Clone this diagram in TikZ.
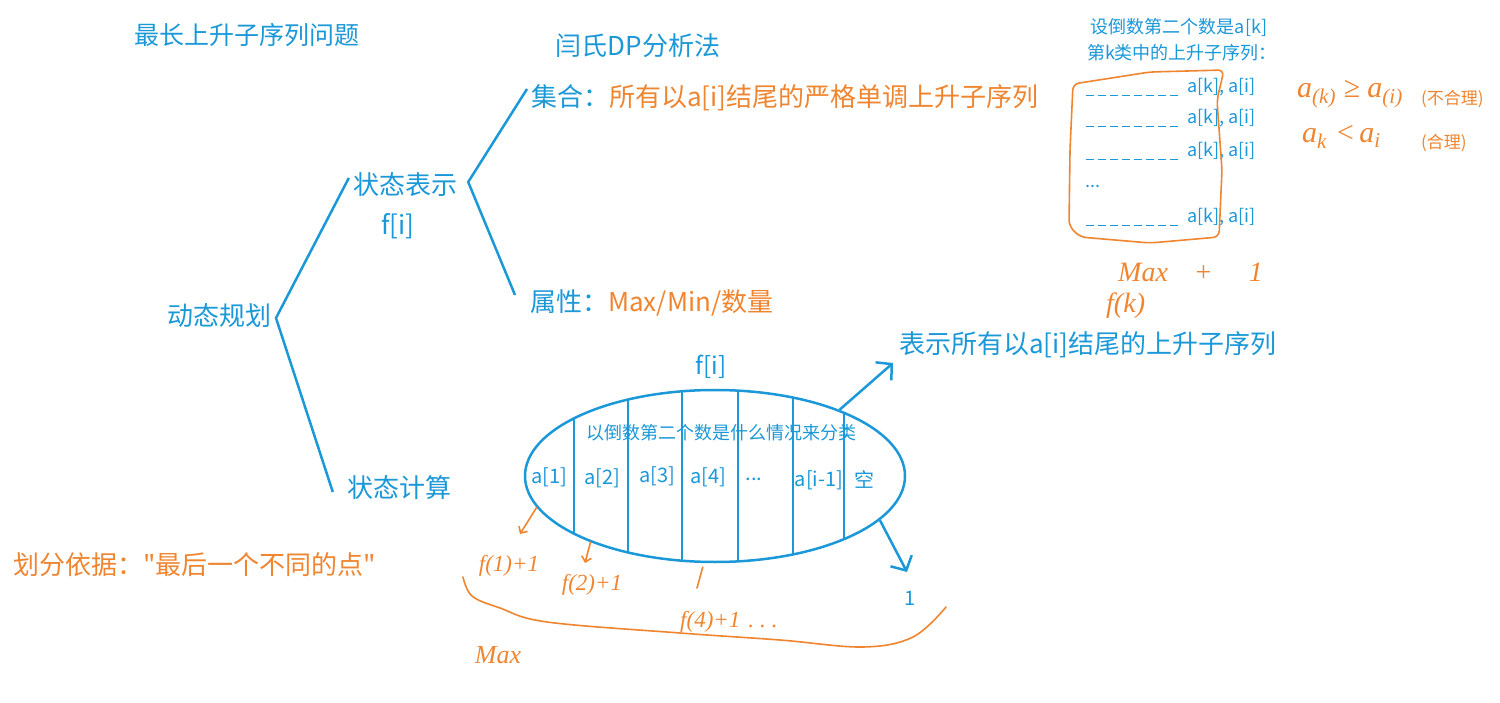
\documentclass[tikz,border=0pt]{standalone}
\usepackage{fontspec}
\setmainfont{Noto Sans CJK SC}[Ligatures=TeXOff]
\newfontfamily\handfont{Liberation Serif}
\usetikzlibrary{shapes.geometric,arrows.meta}
\definecolor{lan}{RGB}{27,152,216}
\definecolor{cheng}{RGB}{240,133,48}

\begin{document}
\begin{tikzpicture}[x=1pt,y=-1pt,
    txt/.style={inner sep=0pt,text=lan,font=\fontsize{26}{30}\selectfont},
    small/.style={inner sep=0pt,text=lan,font=\fontsize{18}{22}\selectfont},
    cell/.style={inner sep=0pt,text=lan,font=\fontsize{20}{24}\selectfont},
    note/.style={inner sep=0pt,text=cheng,font=\fontsize{17}{20}\selectfont},
    hand/.style={inner sep=0pt,text=cheng,font=\handfont\itshape\fontsize{23}{26}\selectfont},
    branch/.style={lan,line width=2.5pt},
    arr/.style={lan,line width=2.5pt,-{Straight Barb[length=11pt,width=24pt]}},
    stroke/.style={cheng,line width=1.6pt,line cap=round,line join=round},
    dashrow/.style={lan,line width=1pt,dash pattern=on 8pt off 4pt}]

  \path[use as bounding box,fill=white] (0,0) rectangle (1500,703);

  % ---- titoli --------------------------------------------------------------
  \node[txt,font=\fontsize{25}{30}\selectfont] (title) at (247,35) {最长上升子序列问题};
  \node[txt] (method) at (638,46) {闫氏DP分析法};

  % ---- albero --------------------------------------------------------------
  \node[txt] (dp)   at (219,316) {动态规划};
  \node[txt] (repr) at (405,185) {状态表示};
  \node[txt] (fi)   at (398,226) {f[i]};
  \node[txt] (calc) at (399,488) {状态计算};
  \node[txt,anchor=west] (set)  at (531,98)
    {集合：\textcolor{cheng}{所有以a[i]结尾的严格单调上升子序列}};
  \node[txt,anchor=west] (prop) at (530,303)
    {属性：\textcolor{cheng}{Max/Min/数量}};
  \node[txt,anchor=west,text=cheng] (basis) at (13,565)
    {划分依据："最后一个不同的点"};

  \coordinate (v1) at (276,318);
  \coordinate (v2) at ([shift={(11,-3)}]repr.east);
  \draw[branch] ([shift={(-4,-7)}]repr.west) -- (v1) -- ([shift={(-14,4)}]calc.west);
  \draw[branch] ([shift={(-4,-9)}]set.west) -- (v2) -- ([shift={(-15,-8)}]prop.west);

  % ---- insieme f[i] --------------------------------------------------------
  \node[ellipse,draw=lan,line width=2.5pt,inner sep=0pt,
        minimum width=380pt,minimum height=172pt] (part) at (715,476) {};
  \begin{scope}
    \clip (715,476) ellipse [x radius=190pt,y radius=86pt];
    \foreach \x in {574,628,682,738,793,844}
      \draw[branch] (\x,380) -- (\x,572);
  \end{scope}

  \node[txt,font=\fontsize{24}{28}\selectfont] (ftop) at (711,367) {f[i]};
  \node[small] (rule) at (721,433) {以倒数第二个数是什么情况来分类};
  \node[cell] (c1) at (549,477) {a[1]};
  \node[cell] (c2) at (602,478) {a[2]};
  \node[cell] (c3) at (657,476) {a[3]};
  \node[cell] (c4) at (708,477) {a[4]};
  \node[cell] (c5) at (754,479) {...};
  \node[cell] (c6) at (819,480) {a[i-1]};
  \node[cell] (c7) at (864,479) {空};

  \node[txt,anchor=west] (desc) at (899,345) {表示所有以a[i]结尾的上升子序列};
  \node[cell] (one) at (910,598) {1};

  \coordinate (t1) at (893,363);
  \coordinate (t2) at (907,572);
  \draw[arr] (part.28) -- (t1);
  \draw[arr] (part.-15) -- (t2);

  % ---- classe k ------------------------------------------------------------
  \node[small] (hyp)  at (1179,27) {设倒数第二个数是a[k]};
  \node[small] (kind) at (1182,53) {第k类中的上升子序列：};
  \foreach \y/\n in {87/1,118/2,151/3,217/4} {
    \node[small,anchor=west] (r\n) at (1187,\y) {a[k], a[i]};
    \draw[dashrow] ([shift={(-101,9)}]r\n.west) -- ([shift={(-5,9)}]r\n.west);
  }
  \node[small] (dots) at (1093,186) {...};

  % ---- appunti a mano ------------------------------------------------------
  \draw[stroke,rounded corners=6pt] (1073,84) -- (1070,150) -- (1069,226) -- (1080,237)
    -- (1150,243) -- (1219,237) -- (1222,170) -- (1217,100) -- (1224,70)
    -- (1150,72) -- cycle;

  \node[hand,font=\handfont\itshape\fontsize{30}{34}\selectfont,anchor=west] (ineq1)
    at (1297,94) {a\textsubscript{(k)} ≥ a\textsubscript{(i)}};
  \node[note,anchor=west] (bad) at (1421,99) {(不合理)};
  \node[hand,font=\handfont\itshape\fontsize{30}{34}\selectfont,anchor=west] (ineq2)
    at (1302,137) {a\textsubscript{k}\hspace{8pt}<\hspace{4pt}a\textsubscript{i}};
  \node[note,anchor=west] (good) at (1421,143) {(合理)};

  \node[hand,font=\handfont\itshape\fontsize{28}{32}\selectfont,anchor=west] (kmax)
    at (1118,272) {Max\hspace{26pt}+\hspace{36pt}1};
  \node[hand,font=\handfont\itshape\fontsize{28}{32}\selectfont,anchor=west] (fk)
    at (1106,306) {f(k)};

  \node[hand] (f1) at (509,566) {f(1)+1};
  \node[hand] (f2) at (592,585) {f(2)+1};
  \node[hand,anchor=west] (f4) at (680,622) {f(4)+1\hspace{8pt}.\hspace{6pt}.\hspace{6pt}.};
  \node[hand,font=\handfont\itshape\fontsize{26}{30}\selectfont] (mx) at (498,655) {Max};

  \coordinate (h1) at (520,534);
  \coordinate (h2) at (585,563);
  \coordinate (h3) at (697,588);
  \draw[stroke,-{Straight Barb[length=5pt,width=10pt]}] (part.190) -- (h1);
  \draw[stroke,-{Straight Barb[length=5pt,width=10pt]}] (part.208) -- (h2);
  \draw[stroke] ([shift={(0,4)}]part.262) -- (h3);

  \draw[stroke] plot[smooth,tension=0.6] coordinates {(463,577) (472,596) (500,608)
    (547,622) (680,633) (780,640) (863,647) (913,637) (946,607)};
\end{tikzpicture}
\end{document}
